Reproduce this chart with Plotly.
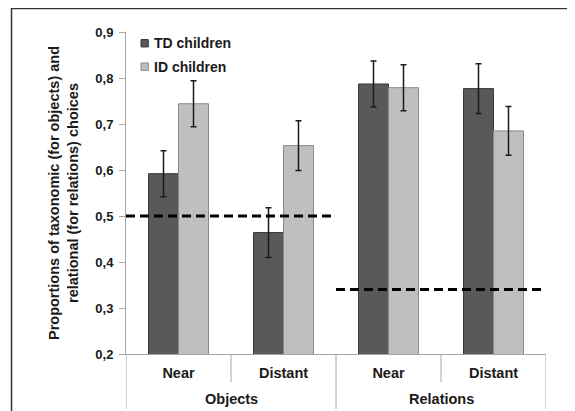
import plotly.graph_objects as go

groups = ["Objects", "Relations"]
conditions = ["Near", "Distant", "Near", "Distant"]
td_values = [0.592, 0.464, 0.787, 0.777]
td_errors = [0.050, 0.054, 0.050, 0.054]
id_values = [0.744, 0.653, 0.779, 0.685]
id_errors = [0.050, 0.054, 0.050, 0.053]
chance_levels = [0.5, 0.34]
y_ticks = [0.2, 0.3, 0.4, 0.5, 0.6, 0.7, 0.8, 0.9]
series_names = ["TD children", "ID children"]
series_colors = ["#595959", "#bfbfbf"]
series_edges = ["#3a3a3a", "#8a8a8a"]

FONT = "Liberation Sans, Arial, sans-serif"
AXC = "#a6a6a6"
x_pos = list(range(len(conditions)))

fig = go.Figure()
for vals, errs, name, col, edge in [
    (td_values, td_errors, series_names[0], series_colors[0], series_edges[0]),
    (id_values, id_errors, series_names[1], series_colors[1], series_edges[1]),
]:
    fig.add_trace(go.Bar(
        x=x_pos, y=vals, name=name, showlegend=False,
        marker=dict(color=col, line=dict(color=edge, width=1)),
        error_y=dict(type="data", array=errs, visible=True,
                     color="#1a1a1a", thickness=1.5, width=3),
    ))

# chance-level dashed lines over each group
for i, lvl in enumerate(chance_levels):
    fig.add_shape(type="line", xref="x", yref="y",
                  x0=2 * i - 0.5, x1=2 * i + 1.5, y0=lvl, y1=lvl,
                  line=dict(color="black", width=3, dash="9px,5px"))

# category separators below the axis
for xb in [-0.5, 1.5, 3.5]:
    fig.add_shape(type="line", xref="x", yref="paper", x0=xb, x1=xb,
                  y0=0, y1=-0.171, line=dict(color=AXC, width=1))
for xb in [0.5, 2.5]:
    fig.add_shape(type="line", xref="x", yref="paper", x0=xb, x1=xb,
                  y0=0, y1=-0.087, line=dict(color=AXC, width=1))

# group labels
for i, g in enumerate(groups):
    fig.add_annotation(x=2 * i + 0.5, xref="x", y=-0.14, yref="paper",
                       text=g, showarrow=False, yanchor="middle",
                       font=dict(family=FONT, size=14.5, weight="bold",
                                 color="#1a1a1a"))

# legend (drawn manually to match the compact original)
for j, (name, col, edge) in enumerate(zip(series_names, series_colors, series_edges)):
    yc = 0.965 - j * 0.0727
    fig.add_shape(type="rect", xref="paper", yref="paper",
                  x0=0.0357, x1=0.0531, y0=yc - 0.0115, y1=yc + 0.0115,
                  fillcolor=col, line=dict(color=edge, width=1))
    fig.add_annotation(x=0.0612, xref="paper", y=yc, yref="paper",
                       text=name, showarrow=False, xanchor="left",
                       yanchor="middle",
                       font=dict(family=FONT, size=14, weight="bold",
                                 color="#1a1a1a"))

# outer frame (left and top edges)
fig.add_shape(type="path", xref="paper", yref="paper",
              path="M -0.2726,-0.3 L -0.2726,1.073 L 1.2,1.073",
              line=dict(color="#333333", width=1.5))

# page body has an 8px margin, so the figure is 8px smaller and offset
fig.update_layout(
    width=567, height=403,
    margin=dict(l=118, r=29, t=24, b=57),
    paper_bgcolor="white", plot_bgcolor="white",
    separators=",.",
    barmode="group", bargap=0.4286, bargroupgap=0,
    font=dict(family=FONT, size=13, color="#1a1a1a"),
    showlegend=False,
    xaxis=dict(
        range=[-0.5, 3.5], tickvals=x_pos, ticktext=conditions,
        showline=True, linecolor=AXC, linewidth=1,
        ticks="", ticklabelstandoff=6,
        tickfont=dict(size=14.5, family=FONT, weight="bold", color="#1a1a1a"),
        showgrid=False, zeroline=False,
    ),
    yaxis=dict(
        range=[0.2, 0.9], tickvals=y_ticks, tickformat=".1f",
        showline=True, linecolor=AXC, linewidth=1,
        ticks="outside", ticklen=6, tickcolor=AXC,
        ticklabelstandoff=3,
        showgrid=False, zeroline=False,
        tickfont=dict(size=13, family=FONT, weight="bold", color="#1a1a1a"),
        title=dict(text="Proportions of taxonomic (for objects) and<br>relational (for relations) choices",
                   font=dict(size=14.5, family=FONT, weight="bold", color="#1a1a1a"),
                   standoff=13),
    ),
)

fig.write_html("out.html")
